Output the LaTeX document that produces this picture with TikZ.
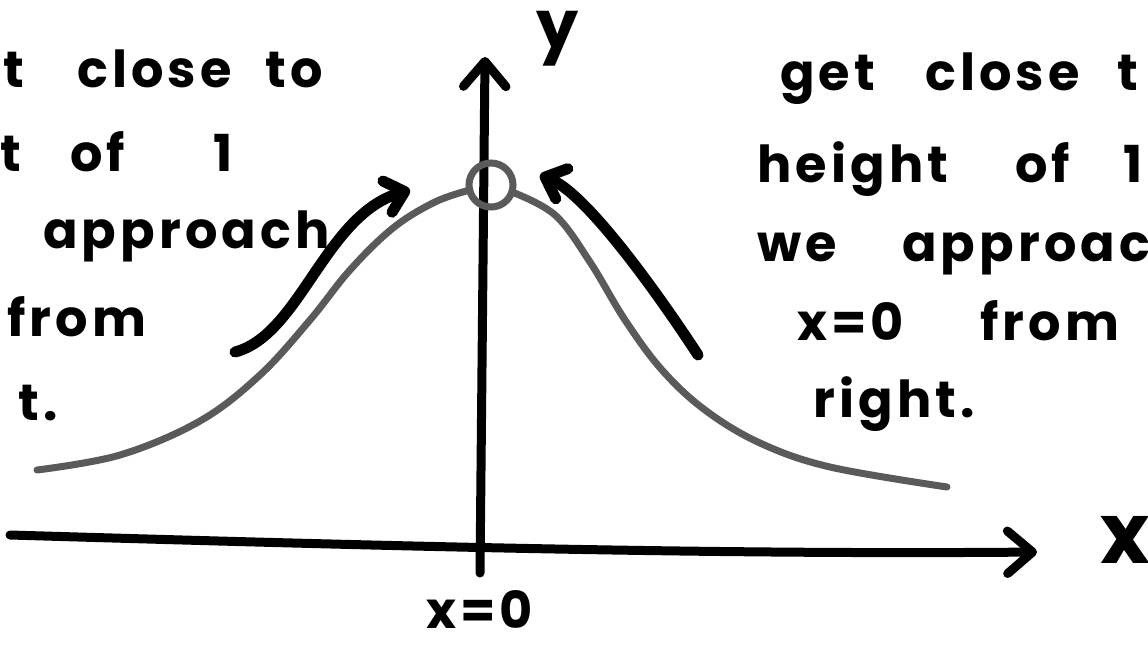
\documentclass[tikz,border=0pt]{standalone}
\usepackage{fontspec}
\usetikzlibrary{arrows.meta}
\newfontfamily\handfont[LetterSpace=8]{Poppins}
\definecolor{curvegray}{HTML}{5A5A5A}
\tikzset{
  txt/.style={font=\handfont\bfseries\fontsize{29}{35}\selectfont, inner sep=0pt, anchor=base west},
  bigtxt/.style={txt, font=\handfont\bfseries\fontsize{29}{35}\selectfont},
  axis/.style={line width=1.8mm, line cap=round, -{Straight Barb[length=5mm, width=8.5mm, round]}},
  hint/.style={line width=2.2mm, line cap=round, -{Straight Barb[length=3.6mm, width=6.5mm, round]}},
  graph/.style={line width=1.4mm, curvegray, line cap=round, line join=round}
}
\begin{document}
\begin{tikzpicture}[x=0.02cm, y=-0.02cm]
\useasboundingbox (0,0) rectangle (1148,646);
\clip (0,0) rectangle (1148,646);
\fill[white] (0,0) rectangle (1148,646);

% axes
\coordinate (xs) at (10,535);
\coordinate (xe) at (1037,552);
\coordinate (ys) at (480,573);
\coordinate (ye) at (485,57);
\draw[axis] (xs) .. controls (350,545) and (700,555) .. (xe);
\draw[axis] (ys) -- (ye);

% graph with hole
\node[draw=curvegray, line width=1.4mm, circle, minimum size=44*0.02cm, inner sep=0pt] (hole) at (491,185) {};
\draw[graph] plot[smooth, tension=0.6] coordinates {(37,470) (120,455) (200,421) (260,375) (310,320) (350,270) (393,228) (435,202) (470,190)};
\draw[graph] plot[smooth, tension=0.6] coordinates {(512,192) (555,215) (590,262) (625,320) (662,370) (705,410) (760,443) (830,467) (947,487)};

% approach arrows
\coordinate (la) at (235,352);
\coordinate (lb) at (410,190);
\coordinate (ra) at (698,355);
\coordinate (rb) at (540,175);
\draw[hint] (la) .. controls (300,335) and (325,215) .. (lb);
\draw[hint] (ra) .. controls (670,312) and (590,195) .. (rb);

% axis labels
\node[txt, font=\handfont\bfseries\fontsize{38}{46}\selectfont] (ylab) at (536,48) {y};
\node[txt, font=\handfont\bfseries\fontsize{48}{56}\selectfont] (xlab) at (1100,563) {x};
\node[bigtxt] (x0) at (426,628) {x=0};

% left text
\node[txt] (l1a) at (3,87) {t};
\node[txt] (l1b) at (77,87) {close};
\node[txt] (l1c) at (265,87) {to};
\node[txt] (l2a) at (0,171) {t};
\node[txt] (l2b) at (70,171) {of};
\node[txt] (l2c) at (213,171) {1};
\node[txt] (l3a) at (43,248) {approach};
\node[txt] (l4a) at (7,336) {from};
\node[txt] (l5a) at (18,420) {t.};

% right text
\node[txt] (r1a) at (780,90) {get};
\node[txt] (r1b) at (925,90) {close};
\node[txt] (r1c) at (1117,90) {t};
\node[txt] (r2a) at (757,182) {height};
\node[txt] (r2b) at (1015,182) {of};
\node[txt] (r2c) at (1123,182) {1};
\node[txt] (r3a) at (757,261) {we};
\node[txt] (r3b) at (902,261) {approac};
\node[txt] (r4a) at (797,340) {x=0};
\node[txt] (r4b) at (980,340) {from};
\node[txt] (r5a) at (813,417) {right.};
\end{tikzpicture}
\end{document}
